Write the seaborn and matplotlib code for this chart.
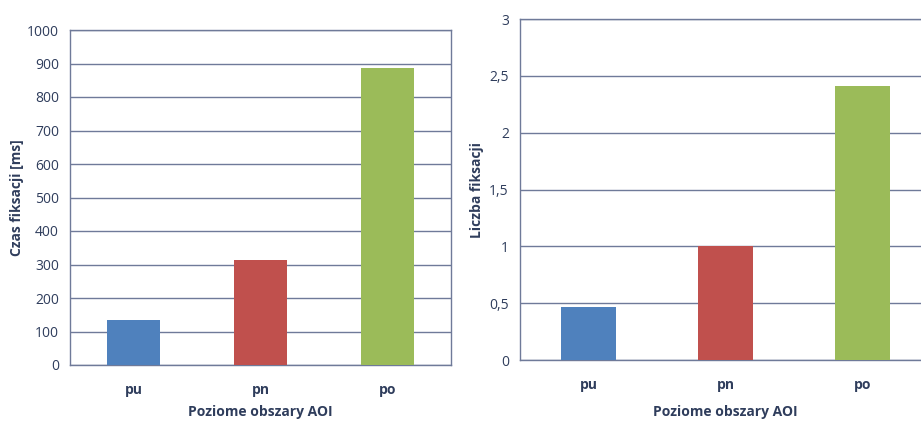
import numpy as np
import pandas as pd
import matplotlib
matplotlib.use('Agg')
import matplotlib.pyplot as plt
import seaborn as sns
from matplotlib.ticker import FuncFormatter, MultipleLocator

# data
categories = ['pu', 'pn', 'po']
czas_fiksacji = [134, 313, 886]
liczba_fiksacji = [0.47, 1.0, 2.41]
bar_colors = ['#4f81bd', '#c0504d', '#9bbb59']

sns.set_style('white')
plt.rcParams['font.family'] = ['Open Sans', 'DejaVu Sans']

text_color = '#2f3d5c'
grid_color = '#6f7a99'

fig = plt.figure(figsize=(9.21, 4.22), dpi=100)
ax1 = fig.add_axes([70/921, 1-365/422, 381/921, 335/422])
ax2 = fig.add_axes([520/921, 1-360/422, 411/921, 341/422])

df1 = pd.DataFrame({'obszar': categories, 'wartosc': czas_fiksacji})
df2 = pd.DataFrame({'obszar': categories, 'wartosc': liczba_fiksacji})

sns.barplot(data=df1, x='obszar', y='wartosc', hue='obszar', palette=bar_colors,
            width=0.41, legend=False, ax=ax1, saturation=1, zorder=3, linewidth=0)
sns.barplot(data=df2, x='obszar', y='wartosc', hue='obszar', palette=bar_colors,
            width=0.40, legend=False, ax=ax2, saturation=1, zorder=3, linewidth=0)

ax1.set_ylim(0, 1000)
ax1.yaxis.set_major_locator(MultipleLocator(100))
ax2.set_ylim(0, 3)
ax2.yaxis.set_major_locator(MultipleLocator(0.5))
ax2.yaxis.set_major_formatter(FuncFormatter(lambda v, p: f'{v:g}'.replace('.', ',')))

for ax in (ax1, ax2):
    ax.set_xlim(-0.5, 2.5)
    ax.grid(axis='y', color=grid_color, linewidth=1.0, zorder=0)
    ax.set_axisbelow(True)
    for s in ax.spines.values():
        s.set_color(grid_color)
        s.set_linewidth(1.0)
    ax.tick_params(axis='y', length=0, colors=text_color, labelsize=10, pad=8)
    ax.tick_params(axis='x', length=0, colors=text_color, labelsize=10, pad=13)
    for lab in ax.get_xticklabels():
        lab.set_fontweight('bold')
    ax.set_xlabel('Poziome obszary AOI', color=text_color, fontsize=10,
                  fontweight='bold', labelpad=6)

ax1.set_ylabel('Czas fiksacji [ms]', color=text_color, fontsize=10,
               fontweight='bold', labelpad=2)
ax2.set_ylabel('Liczba fiksacji', color=text_color, fontsize=10,
               fontweight='bold', labelpad=4)
ax2.xaxis.labelpad = 9

fig.savefig('out.png', dpi=100)
